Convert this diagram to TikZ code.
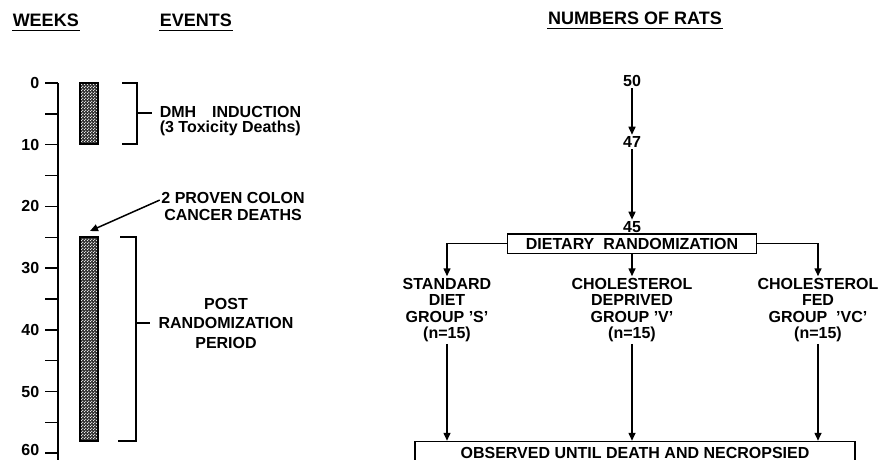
\documentclass[tikz,border=0pt]{standalone}
\usepackage{fontspec}
\setmainfont{Liberation Sans}
\usetikzlibrary{arrows.meta,patterns}

% light holes punched in the dark fill of the dosing bars
\pgfdeclarepatternformonly{holes}{\pgfpointorigin}{\pgfpoint{3pt}{3pt}}{\pgfpoint{3pt}{3pt}}{%
  \pgfpathcircle{\pgfpoint{0.75pt}{0.75pt}}{0.75pt}%
  \pgfpathcircle{\pgfpoint{2.25pt}{2.25pt}}{0.75pt}%
  \pgfusepath{fill}}

\begin{document}
\begin{tikzpicture}[x=1pt, y=-1pt, line width=1.5pt,
  every node/.style={font=\bfseries\fontsize{16}{16.5}\selectfont, inner sep=1pt},
  head/.style={font=\bfseries\fontsize{18}{20}\selectfont, inner xsep=0pt, inner ysep=3pt},
  arr/.style={-{Triangle[length=8pt,width=7pt]}},
  bar/.style={fill=black!80, postaction={pattern=holes, pattern color=white}},
  box/.style={draw, inner sep=0pt}]
\useasboundingbox (0,0) rectangle (880,460);

% headings
\node[head, anchor=west] (weeks) at (12,20.5) {WEEKS};
\node[head, anchor=west] (events) at (159,20.5) {EVENTS};
\node[head] (rats) at (635,18.5) {NUMBERS OF RATS};
\foreach \h in {weeks,events,rats}
  \draw[line width=1.2pt] (\h.south west) -- (\h.south east);

% week axis
\draw (58,83) -- (58,462);
\foreach \w in {0,5,...,60}
  \draw (45,{83+6.17*\w}) -- (58,{83+6.17*\w});
\foreach \w in {0,10,...,60}
  \node[anchor=east] (t\w) at (41,{83+6.17*\w-3*(\w==60)}) {\w};

% bars and brackets
\path[bar] (80,83) rectangle (98,144);
\draw (80,83) rectangle (98,144);
\path[bar] (80,237) rectangle (98,441);
\draw (80,237) rectangle (98,441);
\draw (122,83) -- (137,83) -- (137,144) -- (122,144);
\draw (137,113) -- (152,113);
\draw (120,237) -- (136,237) -- (136,441) -- (118,441);
\draw (136,323) -- (150,323);

% events
\node[anchor=west, align=left, font=\bfseries\fontsize{16}{15}\selectfont] (dmh) at (158,121)
  {DMH\quad INDUCTION\\(3 Toxicity Deaths)};
\node[align=center, font=\bfseries\fontsize{16}{17}\selectfont] (colon) at (233,206.5)
  {2 PROVEN COLON\\CANCER DEATHS};
\coordinate (bartop) at (90,231);
\draw[arr] (colon.175) -- (bartop);
\node[align=center, font=\bfseries\fontsize{16}{19.5}\selectfont] (post) at (226,323)
  {POST\\RANDOMIZATION\\PERIOD};

% numbers of rats
\node (n50) at (632,81) {50};
\node (n47) at (632,142) {47};
\node (n45) at (632,227) {45};
\node[box, minimum width=249pt, minimum height=19.5pt] (rand) at (632,243.5) {DIETARY\ \ RANDOMIZATION};
\node[align=center] (gs) at (447,310) {STANDARD\\DIET\\GROUP 'S'\\(n=15)};
\node[align=center] (gv) at (632,310) {CHOLESTEROL\\DEPRIVED\\GROUP 'V'\\(n=15)};
\node[align=center] (gvc) at (818,310) {CHOLESTEROL\\FED\\GROUP\ \ 'VC'\\(n=15)};
\node[box, minimum width=440pt, minimum height=22pt] (obs) at (635,452.5) {OBSERVED UNTIL DEATH AND NECROPSIED};

\draw[arr] (n50) -- (n47);
\draw[arr] (n47) -- (n45);
\draw[arr] (rand.west) -| (gs.north);
\draw[arr] (rand) -- (gv);
\draw[arr] (rand.east) -| (gvc.north);
\foreach \g in {gs,gv,gvc}
  \draw[arr] (\g) -- (\g |- obs.north);
\end{tikzpicture}
\end{document}
